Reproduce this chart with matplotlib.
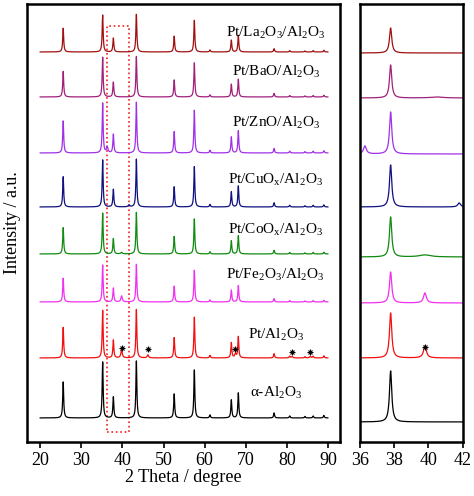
import numpy as np
import matplotlib
matplotlib.use("Agg")
import matplotlib.pyplot as plt

plt.rcParams['font.family'] = ['Liberation Serif', 'DejaVu Serif']
plt.rcParams['mathtext.fontset'] = 'custom'
plt.rcParams['mathtext.rm'] = 'Liberation Serif'

labels = ["α-Al$_2$O$_3$", "Pt/Al$_2$O$_3$", "Pt/Fe$_2$O$_3$/Al$_2$O$_3$",
          r"Pt/CoO$_\mathrm{x}$/Al$_2$O$_3$", r"Pt/CuO$_\mathrm{x}$/Al$_2$O$_3$", "Pt/ZnO/Al$_2$O$_3$",
          "Pt/BaO/Al$_2$O$_3$", "Pt/La$_2$O$_3$/Al$_2$O$_3$"]
colors = ["#000000", "#f01010", "#f030f0", "#108a10", "#101080", "#a030e8", "#a0207a", "#a01010"]
offsets_left = [24, 84, 140, 188, 235, 289, 345, 390]
offsets_right = [20, 84, 139, 185, 235, 288, 344, 389]
scales = [1.0, 0.85, 0.66, 0.73, 0.84, 0.89, 0.71, 0.66]

# alpha-Al2O3 peak positions (deg) and heights
base_pos = [25.6, 35.2, 37.8, 43.4, 52.6, 57.5, 61.3, 66.5, 68.2, 76.9, 80.7, 84.4, 86.4, 89.0]
base_h = [36, 56, 21, 57, 24, 48, 3, 18, 25, 5, 2, 1.5, 2, 2.5]
# extra peaks per series: (position, height)
extra = {1: [(39.8, 8), (46.2, 3), (67.5, 4), (81.3, 1.5), (85.7, 1.5)],
         2: [(39.8, 6)], 3: [(39.8, 1.5)], 5: [(36.3, 6)], 4: [(41.6, 2)]}
# right panel: height of 37.8 peak per series
right_h = [51, 45, 31, 40, 42, 42, 33, 25]
right_extra = {1: [(39.8, 12)], 2: [(39.8, 10)], 3: [(39.8, 2)], 5: [(36.3, 8)],
               4: [(41.8, 4)], 6: [(40.5, 1)]}

def lor(x, p, h, w):
    return h / (1 + ((x - p) / w) ** 2)

fig = plt.figure(figsize=(4.74, 4.96), dpi=100)
axL = fig.add_axes([0.057, 0.109, 0.660, 0.883])
axR = fig.add_axes([0.759, 0.109, 0.217, 0.883])

x = np.arange(20, 90, 0.02)
for i in range(8):
    y = np.zeros_like(x)
    for p, h in zip(base_pos, base_h):
        y += lor(x, p, h * scales[i], 0.14)
    for p, h in extra.get(i, []):
        y += lor(x, p, h, 0.2)
    axL.plot(x, y + offsets_left[i], color=colors[i], lw=0.9)

xr = np.arange(36, 42, 0.005)
for i in range(8):
    y = lor(xr, 37.8, right_h[i], 0.08)
    for p, h in right_extra.get(i, []):
        y += lor(xr, p, h, 0.1 if h > 3 else 0.4)
    axR.plot(xr, y + offsets_right[i], color=colors[i], lw=0.9)

label_y = [393, 335, 275, 230, 180, 123, 72, 33]
for i in range(8):
    axL.text(77.3, 442 - label_y[i], labels[i], ha='center', va='center', fontsize=11)

star_left = [(39.8, 94), (46.2, 93), (67.4, 93), (81.3, 90), (85.7, 90)]
for sx, sy in star_left:
    axL.plot(sx, sy, marker='+', color='k', ms=5, mew=0.8)
    axL.plot(sx, sy, marker='x', color='k', ms=3.5, mew=0.8)
axR.plot(39.8, 95, marker='+', color='k', ms=5, mew=0.8)
axR.plot(39.8, 95, marker='x', color='k', ms=3.5, mew=0.8)

axL.add_patch(plt.Rectangle((36.2, 10), 5.5, 406, fill=False, ec='#f02020', ls=':', lw=1.2))

axL.set_xlim(16.8, 92.9)
axL.set_ylim(0, 438)
axR.set_xlim(36, 42)
axR.set_ylim(0, 438)
axL.set_xticks(range(20, 91, 10))
axR.set_xticks(range(36, 43, 2))
for ax in (axL, axR):
    ax.set_yticks([])
    for s in ax.spines.values():
        s.set_linewidth(1.8)
    ax.tick_params(axis='x', direction='out', length=4, width=1.2, labelsize=13)
axL.set_xlabel("2 Theta / degree", fontsize=13, labelpad=0)
axL.set_ylabel("Intensity / a.u.", fontsize=13, labelpad=4)

fig.savefig("out.png", dpi=100)
